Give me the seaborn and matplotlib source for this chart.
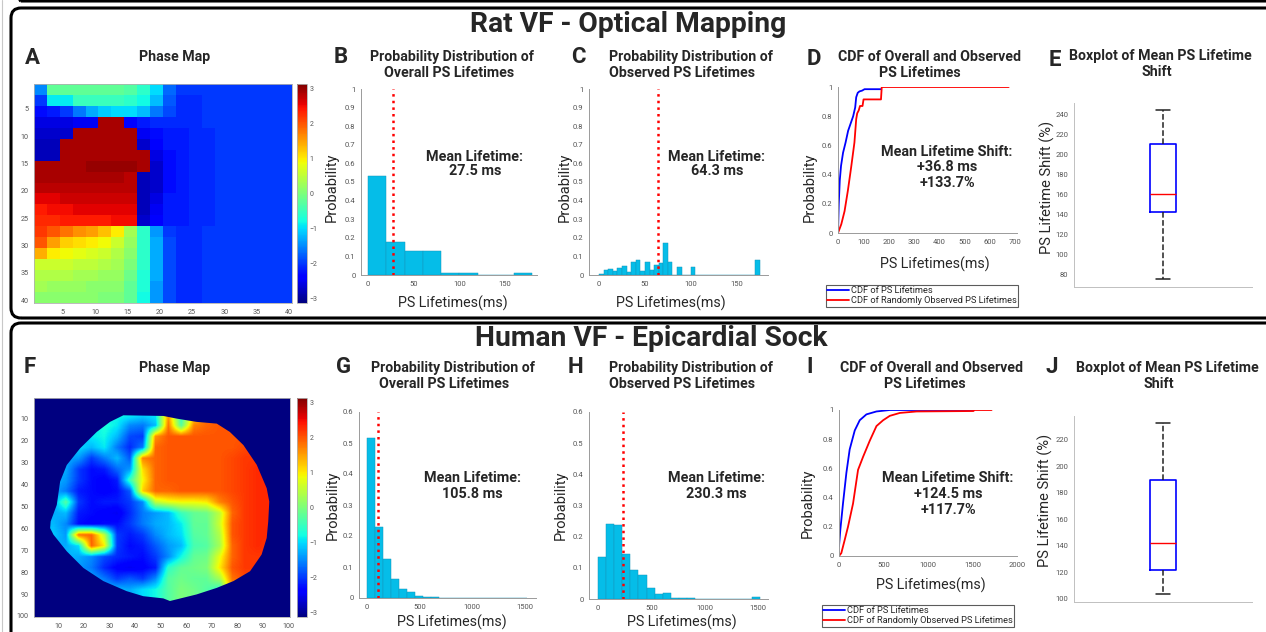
import numpy as np
import pandas as pd
import matplotlib
matplotlib.use('Agg')
import matplotlib.pyplot as plt
import seaborn as sns
from matplotlib.patches import FancyBboxPatch, Polygon
from matplotlib.lines import Line2D
from matplotlib.transforms import IdentityTransform
from matplotlib.ticker import FuncFormatter

# ---------------- data ----------------
# Rat phase map (20x20 coarse cells, each 2x2 pixels of the 40x40 map), radians
rat_phase = [
    [-1.5,-0.2,-0.2,-0.2,-0.2,-0.2,-0.2,-0.3,-0.6,-1.0,-1.7,-2.0,-2.0,-2.0,-2.0,-2.0,-2.0,-2.0,-2.0,-2.0],
    [-2.0,-0.9,-0.9,-0.5,-0.5,-0.5,-0.5,-0.6,-0.8,-1.2,-1.8,-2.1,-2.1,-2.0,-2.0,-2.0,-2.0,-2.0,-2.0,-2.0],
    [-2.3,-2.2,-2.0,-1.6,-1.3,-1.1,-1.0,-1.0,-1.2,-1.6,-1.9,-2.1,-2.1,-2.0,-2.0,-2.0,-2.0,-2.0,-2.0,-2.0],
    [-2.6,-2.6,-2.6,-2.5,-2.5, 2.9, 2.9,-2.4,-2.2,-2.1,-2.1,-2.1,-2.1,-2.0,-2.0,-2.0,-2.0,-2.0,-2.0,-2.0],
    [-2.7,-2.7,-2.7, 2.9, 2.9, 2.9, 2.9, 2.9,-2.5,-2.3,-2.2,-2.2,-2.1,-2.1,-2.0,-2.0,-2.0,-2.0,-2.0,-2.0],
    [-2.8,-2.8, 2.9, 2.9, 2.9, 2.9, 2.9, 2.9,-2.7,-2.4,-2.2,-2.2,-2.1,-2.1,-2.0,-2.0,-2.0,-2.0,-2.0,-2.0],
    [-2.8,-2.8, 2.9, 2.9, 2.9, 2.9, 2.9, 2.9, 2.9,-2.6,-2.3,-2.2,-2.1,-2.1,-2.0,-2.0,-2.0,-2.0,-2.0,-2.0],
    [ 2.9, 2.9, 2.9, 2.9, 3.0, 3.0, 3.0, 3.0, 2.9,-2.7,-2.3,-2.2,-2.1,-2.1,-2.0,-2.0,-2.0,-2.0,-2.0,-2.0],
    [ 2.9, 2.9, 2.9, 2.9, 2.9, 2.9, 2.9, 2.8,-2.8,-2.7,-2.3,-2.2,-2.1,-2.1,-2.0,-2.0,-2.0,-2.0,-2.0,-2.0],
    [ 2.8, 2.8, 2.8, 2.8, 2.8, 2.8, 2.8, 2.8,-2.8,-2.7,-2.3,-2.2,-2.1,-2.1,-2.0,-2.0,-2.0,-2.0,-2.0,-2.0],
    [ 2.6, 2.6, 2.7, 2.7, 2.7, 2.7, 2.7, 2.7,-2.8,-2.6,-2.2,-2.2,-2.1,-2.1,-2.0,-2.0,-2.0,-2.0,-2.0,-2.0],
    [ 2.4, 2.5, 2.5, 2.6, 2.6, 2.6, 2.6, 2.6,-2.8,-2.5,-2.2,-2.2,-2.1,-2.1,-2.0,-2.0,-2.0,-2.0,-2.0,-2.0],
    [ 2.3, 2.3, 2.4, 2.4, 2.4, 2.4, 2.5, 2.5,-2.7,-2.4,-2.2,-2.2,-2.1,-2.1,-2.0,-2.0,-2.0,-2.0,-2.0,-2.0],
    [ 2.2, 2.0, 1.8, 1.6, 1.5, 1.3, 1.0, 0.3,-0.6,-1.4,-2.0,-2.1,-2.1,-2.0,-2.0,-2.0,-2.0,-2.0,-2.0,-2.0],
    [ 2.0, 1.5, 1.2, 1.1, 1.0, 0.9, 0.6, 0.2,-0.6,-1.3,-1.9,-2.1,-2.1,-2.0,-2.0,-2.0,-2.0,-2.0,-2.0,-2.0],
    [ 1.4, 1.0, 0.9, 0.8, 0.7, 0.6, 0.4, 0.1,-0.6,-1.3,-1.9,-2.1,-2.1,-2.0,-2.0,-2.0,-2.0,-2.0,-2.0,-2.0],
    [ 0.6, 0.6, 0.6, 0.5, 0.5, 0.4, 0.3, 0.0,-0.6,-1.3,-1.9,-2.1,-2.1,-2.0,-2.0,-2.0,-2.0,-2.0,-2.0,-2.0],
    [ 0.4, 0.4, 0.4, 0.3, 0.3, 0.2, 0.2,-0.1,-0.7,-1.3,-1.9,-2.1,-2.1,-2.0,-2.0,-2.0,-2.0,-2.0,-2.0,-2.0],
    [ 0.3, 0.2, 0.2, 0.2, 0.1, 0.1, 0.1,-0.2,-0.7,-1.4,-1.9,-2.1,-2.1,-2.0,-2.0,-2.0,-2.0,-2.0,-2.0,-2.0],
    [ 0.1, 0.1, 0.1, 0.1, 0.1, 0.0, 0.0,-0.2,-0.8,-1.4,-1.9,-2.1,-2.1,-2.0,-2.0,-2.0,-2.0,-2.0,-2.0,-2.0],
]

# Human phase map (20x20 coarse cells, 5x5 electrodes each), radians
human_phase = [
    [-1.3,-1.3,-1.3,-1.3,-1.3,-1.0,-0.8,-0.8,-1.0,-0.9, 1.5,-0.6, 1.0, 1.9, 1.9, 2.0, 2.0, 2.0, 2.0, 2.0],
    [-1.3,-1.3,-1.3,-1.3,-1.3,-1.0,-0.8,-0.8,-1.0,-0.9, 1.5,-0.6, 1.0, 1.9, 1.9, 2.0, 2.0, 2.0, 2.0, 2.0],
    [-1.3,-1.3,-1.3,-1.3,-1.0,-0.7,-0.9,-1.5,-1.6,-1.2, 1.8,-0.3, 1.7, 1.9, 2.0, 2.0, 2.0, 2.0, 2.0, 2.0],
    [-1.3,-1.3,-1.3,-1.3,-0.9,-0.8,-1.2,-1.9,-2.0, 1.6, 2.0, 2.0, 2.0, 2.0, 2.0, 2.0, 2.0, 2.1, 2.1, 2.1],
    [-1.2,-1.2,-1.2,-1.0,-1.2,-0.9,-1.6,-2.1,-1.6, 1.9, 2.0, 2.0, 2.0, 2.0, 2.0, 2.0, 2.1, 2.2, 2.2, 2.2],
    [-1.3,-1.3,-1.3,-1.4,-2.0,-1.6,-1.2,-1.8, 1.7, 1.9, 2.0, 2.0, 2.0, 2.0, 2.0, 2.1, 2.2, 2.2, 2.3, 2.3],
    [-1.2,-1.2,-1.3,-2.0,-2.3,-2.2,-1.7,-1.4, 1.1, 1.9, 2.0, 2.0, 2.0, 2.0, 2.0, 2.1, 2.2, 2.3, 2.3, 2.3],
    [-1.2,-1.2,-1.4,-2.0,-2.3,-2.4,-2.2,-0.5, 0.9, 1.9, 2.0, 2.0, 2.0, 2.0, 2.0, 2.1, 2.2, 2.3, 2.3, 2.3],
    [-1.3,-1.3,-1.6,-2.2,-2.3,-2.4,-2.3,-1.8, 1.2, 1.9, 1.9, 2.0, 2.0, 2.0, 2.0, 2.1, 2.2, 2.3, 2.3, 2.3],
    [-1.4,-1.4,-0.3,-2.0,-2.3,-2.2,-2.2,-2.0,-1.5, 0.5, 0.8, 0.9, 0.9, 1.0, 1.7, 2.0, 2.2, 2.3, 2.3, 2.3],
    [-1.3,-1.3,-1.2,-2.2,-2.3,-2.4,-2.5,-2.1,-1.6,-1.4,-1.2,-0.5,-0.2,-0.1, 0.5, 1.9, 2.2, 2.3, 2.3, 2.3],
    [-1.3,-1.2,-1.5,-2.3,-2.4,-2.3,-2.3,-2.0,-1.6,-1.3,-1.2,-0.9,-0.2,-0.2, 0.6, 2.0, 2.2, 2.3, 2.3, 2.3],
    [-1.1,-1.1,-1.4, 1.8, 1.9, 0.5,-2.0,-2.2,-2.0,-1.5,-1.2,-1.0,-0.3,-0.2, 0.4, 2.0, 2.2, 2.3, 2.3, 2.3],
    [-1.3,-1.3,-1.3,-1.0, 1.9, 1.0,-2.0,-2.3,-2.2,-1.8,-1.4,-1.2,-0.4,-0.3, 0.3, 1.9, 2.2, 2.3, 2.2, 2.2],
    [-1.2,-1.2,-1.2,-1.3,-1.5,-1.9,-2.1,-2.2,-2.3,-2.0,-1.5,-0.8,-0.2,-0.1, 0.8, 1.9, 2.2, 2.2, 2.2, 2.2],
    [-1.4,-1.4,-1.4,-1.4,-1.6,-2.1,-2.4,-2.5,-2.4,-2.2,-0.6,-0.2,-0.1, 0.0, 1.0, 2.0, 2.2, 2.2, 2.2, 2.2],
    [-1.3,-1.3,-1.3,-1.3,-1.3,-1.6,-2.0,-1.8,-2.0,-1.5,-0.3,-0.1,-0.2,-0.2, 0.3, 1.8, 2.1, 2.1, 2.1, 2.1],
    [-1.2,-1.2,-1.2,-1.2,-1.2,-1.2,-1.2,-1.3,-1.0,-0.8,-0.3, 0.0,-0.1,-0.3,-0.6, 1.5, 2.0, 2.0, 2.0, 2.0],
    [-1.2,-1.2,-1.2,-1.2,-1.2,-1.2,-1.2,-1.3,-1.0,-0.8,-0.3, 0.0,-0.1,-0.3,-0.6, 1.5, 2.0, 2.0, 2.0, 2.0],
    [-1.2,-1.2,-1.2,-1.2,-1.2,-1.2,-1.2,-1.3,-1.0,-0.8,-0.3, 0.0,-0.1,-0.3,-0.6, 1.5, 2.0, 2.0, 2.0, 2.0],
]
# outline of the epicardial sock (x = column, y = row)
sock_outline_x = [35.4, 51.0, 56.2, 64.0, 71.9, 77.0, 82.3, 87.5, 91.4, 92.4, 92.0, 91.4, 89.4, 84.9,
                  78.4, 71.9, 64.0, 53.6, 51.0, 43.2, 36.7, 27.6, 19.8, 13.3, 8.1, 6.8, 7.0, 9.4,
                  10.7, 13.3, 18.5, 25.0, 30.2]
sock_outline_y = [8.4, 8.7, 9.9, 11.4, 12.2, 16.0, 22.0, 31.0, 41.7, 47.8, 56.9, 64.4, 72.0, 79.6,
                  84.1, 87.2, 90.2, 93.2, 92.0, 91.0, 88.7, 84.1, 78.1, 70.5, 62.9, 59.9, 56.9, 49.3,
                  38.7, 31.1, 23.5, 16.0, 11.4]

# Rat histograms
rat_overall_edges = [0, 20, 40, 60, 80, 100, 120, 140, 160, 180]
rat_overall_prob = [0.53, 0.175, 0.13, 0.13, 0.013, 0.013, 0.0, 0.0, 0.013]
rat_overall_mean = 27.5
rat_observed_edges = list(range(0, 180, 5))
rat_observed_prob = [0.004, 0.029, 0.032, 0.023, 0.039, 0.048, 0.016, 0.070, 0.079, 0.023,
                     0.068, 0.027, 0.054, 0.063, 0.171, 0.068, 0.0, 0.043, 0.0, 0.0,
                     0.045, 0.0, 0.0, 0.0, 0.0, 0.0, 0.0, 0.0, 0.0, 0.0,
                     0.0, 0.0, 0.0, 0.0, 0.082]
rat_observed_mean = 64.3

# Rat CDFs
rat_cdf_all_x = [0, 3, 7, 12, 20, 30, 40, 50, 60, 68, 72, 78, 85, 95, 105, 170]
rat_cdf_all_y = [0, 0.2, 0.36, 0.46, 0.55, 0.62, 0.70, 0.75, 0.80, 0.86, 0.93, 0.96, 0.97, 0.975, 0.985, 0.985]
rat_cdf_obs_x = [0, 13, 26, 39, 52, 65, 72, 76, 82, 87, 97, 101, 170, 173, 675]
rat_cdf_obs_y = [0, 0.06, 0.15, 0.29, 0.45, 0.62, 0.78, 0.82, 0.84, 0.87, 0.87, 0.915, 0.915, 1.0, 1.0]

# Rat boxplot (min, q1, median, q3, max of lifetime shift %)
rat_shift = [76, 143, 160, 210, 244]

# Human histograms
human_bin_width = 76
human_overall_prob = [0.515, 0.229, 0.127, 0.060, 0.030, 0.019, 0.0075, 0.003, 0.002, 0.001,
                      0.001, 0.0005, 0.0005, 0, 0, 0, 0, 0, 0, 0]
human_overall_mean = 105.8
human_observed_prob = [0.134, 0.241, 0.236, 0.144, 0.093, 0.076, 0.035, 0.015, 0.019, 0.004,
                       0.003, 0.002, 0, 0, 0, 0, 0, 0, 0, 0.006]
human_observed_mean = 230.3

# Human CDFs
human_cdf_all_x = [0, 15, 45, 83, 120, 177, 233, 308, 421, 571, 1511]
human_cdf_all_y = [0.066, 0.18, 0.36, 0.57, 0.73, 0.86, 0.93, 0.97, 0.99, 1.0, 1.0]
human_cdf_obs_x = [0, 26, 64, 101, 158, 214, 271, 346, 421, 496, 571, 684, 872, 1511, 1520, 1714]
human_cdf_obs_y = [0, 0.02, 0.11, 0.20, 0.36, 0.59, 0.68, 0.79, 0.89, 0.93, 0.96, 0.98, 0.99, 0.993, 1.0, 1.0]

# Human boxplot
human_shift = [104, 122, 142, 190, 233]

# ---------------- figure ----------------
sns.set_style('white')
plt.rcParams['font.family'] = ['Roboto', 'DejaVu Sans']

W, H = 1266, 632
fig = plt.figure(figsize=(W / 100, H / 100), dpi=100)

def add_ax(l, t, r, b):
    return fig.add_axes([l / W, 1 - b / H, (r - l) / W, (b - t) / H])

def ftext(x, y, s, **kw):
    kw.setdefault('ha', 'center')
    kw.setdefault('va', 'center')
    fig.text(x / W, 1 - y / H, s, **kw)

# frames
ident = IdentityTransform()
for (x0, ytop, x1, ybot) in [(11, -300, 1290, 1), (11, 8, 1290, 318), (11, 323, 1290, 700)]:
    fig.patches.append(FancyBboxPatch((x0, H - ybot), x1 - x0, ybot - ytop,
                                      boxstyle='round,pad=0,rounding_size=10',
                                      transform=ident, fill=False, ec='black', lw=2.2,
                                      clip_on=False))
fig.lines.append(Line2D([2, 2], [0, H], transform=ident, color='#c8c8c8', lw=0.8))

TICK_COLOR = '#555555'
SPINE_COLOR = '#9a9a9a'
HIST_COLOR = '#05BDE8'
fmt_g = FuncFormatter(lambda v, p: f'{v:g}')

def style_axes(ax):
    sns.despine(ax=ax)
    for s in ['left', 'bottom']:
        ax.spines[s].set_color(SPINE_COLOR)
        ax.spines[s].set_linewidth(0.7)
    ax.tick_params(labelsize=5.5, colors=TICK_COLOR, length=2, width=0.5, direction='out', pad=2)
    ax.set_facecolor('white')

def phase_map(ax_box, cax_box, grid, extent, ticks, interp, clip=None):
    ax = add_ax(*ax_box)
    cmap = plt.get_cmap('jet')
    im = ax.imshow(np.array(grid), cmap=cmap, vmin=-np.pi, vmax=np.pi, extent=extent,
                   interpolation=interp, aspect='auto')
    if clip is not None:
        ax.set_facecolor(cmap(0.0))
        poly = Polygon(np.column_stack(clip), closed=True, transform=ax.transData)
        im.set_clip_path(poly)
    ax.set_xlim(extent[0], extent[1])
    ax.set_ylim(extent[2], extent[3])
    ax.set_xticks(ticks)
    ax.set_yticks(ticks)
    ax.tick_params(labelsize=5.2, colors=TICK_COLOR, length=2, width=0.5, pad=2)
    for s in ax.spines.values():
        s.set_color('#b0b0b0')
        s.set_linewidth(0.6)
    cax = add_ax(*cax_box)
    cb = fig.colorbar(im, cax=cax, ticks=[-3, -2, -1, 0, 1, 2, 3])
    cb.outline.set_edgecolor('#b0b0b0')
    cb.outline.set_linewidth(0.6)
    cax.tick_params(labelsize=5, colors=TICK_COLOR, length=0, pad=2)
    return ax

def histogram(box, edges, probs, mean, xlim, ylim, yticks, xticks):
    ax = add_ax(*box)
    edges = [float(e) for e in edges]
    centers = [(a + b) / 2 for a, b in zip(edges[:-1], edges[1:])]
    df = pd.DataFrame({'lifetime': centers, 'prob': list(probs)})
    sns.histplot(data=df, x='lifetime', weights='prob', bins=edges, stat='count', ax=ax,
                 color=HIST_COLOR, alpha=1, edgecolor='#1597BD', linewidth=0.35)
    ax.axvline(mean, color='red', ls=':', lw=1.8, zorder=5)
    ax.set_xlim(*xlim)
    ax.set_ylim(*ylim)
    ax.set_yticks(yticks)
    ax.set_xticks(xticks)
    ax.yaxis.set_major_formatter(fmt_g)
    ax.set_xlabel('')
    ax.set_ylabel('')
    style_axes(ax)
    return ax

def cdf_plot(box, xa, ya, xo, yo, xlim, xticks, legend_xy):
    ax = add_ax(*box)
    sns.lineplot(x=xa, y=ya, ax=ax, color='#0000FF', lw=1.3, estimator=None, sort=False,
                 label='CDF of PS Lifetimes')
    sns.lineplot(x=xo, y=yo, ax=ax, color='#FF0000', lw=1.3, estimator=None, sort=False,
                 label='CDF of Randomly Observed PS Lifetimes')
    ax.set_xlim(*xlim)
    ax.set_ylim(0, 1)
    ax.set_xticks(xticks)
    ax.set_yticks([0, 0.2, 0.4, 0.6, 0.8, 1])
    ax.yaxis.set_major_formatter(fmt_g)
    ax.set_xlabel('')
    ax.set_ylabel('')
    style_axes(ax)
    ax.legend(loc='upper left', bbox_to_anchor=(legend_xy[0] / W, 1 - legend_xy[1] / H),
              bbox_transform=fig.transFigure, fontsize=6.7, frameon=True, fancybox=False,
              edgecolor='#333333', borderpad=0.15, handlelength=2.3, handletextpad=0.2,
              labelspacing=0.1, borderaxespad=0)
    ax.get_legend().get_frame().set_linewidth(0.8)
    return ax

def box_plot(box, vals, ylim, yticks):
    ax = add_ax(*box)
    sns.boxplot(y=vals, ax=ax, width=0.15, fill=False, color='blue', whis=1.5, showfliers=False,
                boxprops=dict(color='blue', lw=1.2),
                medianprops=dict(color='red', lw=1.0),
                whiskerprops=dict(color='#222222', ls='--', lw=1.1),
                capprops=dict(color='#222222', lw=1.1))
    ax.set_xlim(-0.5, 0.5)
    ax.set_ylim(*ylim)
    ax.set_yticks(yticks)
    ax.set_xticks([0])
    ax.set_xticklabels([''])
    ax.set_ylabel('')
    style_axes(ax)
    ax.spines['bottom'].set_color('#c0c0c0')
    ax.spines['left'].set_color('#c0c0c0')
    return ax

# ---- top row: Rat ----
phase_map((34, 84, 292, 303), (297, 84, 307, 303), rat_phase, [0.5, 40.5, 40.5, 0.5],
          [5, 10, 15, 20, 25, 30, 35, 40], 'nearest')
histogram((361, 89, 537, 275), rat_overall_edges, rat_overall_prob, rat_overall_mean,
          (-7.7, 185), (0, 1), np.round(np.arange(0, 1.01, 0.1), 1), [0, 50, 100, 150])
histogram((589, 89, 768, 275), rat_observed_edges, rat_observed_prob, rat_observed_mean,
          (-10.9, 184), (0, 1), np.round(np.arange(0, 1.01, 0.1), 1), [0, 50, 100, 150])
cdf_plot((838, 87, 1017, 233), rat_cdf_all_x, rat_cdf_all_y, rat_cdf_obs_x, rat_cdf_obs_y,
         (0, 708), [0, 100, 200, 300, 400, 500, 600, 700], (826, 285))
box_plot((1074, 103, 1252, 287), rat_shift, (68, 251), [80, 100, 120, 140, 160, 180, 200, 220, 240])

# ---- bottom row: Human ----
human_edges = [human_bin_width * k for k in range(len(human_overall_prob) + 1)]
phase_map((34, 398, 290, 617), (297, 398, 307, 617), human_phase, [0.5, 100.5, 100.5, 0.5],
          [10, 20, 30, 40, 50, 60, 70, 80, 90, 100], 'bilinear', clip=(sock_outline_x, sock_outline_y))
histogram((359, 412, 536, 598), human_edges, human_overall_prob, human_overall_mean,
          (-76, 1605), (0, 0.6), np.round(np.arange(0, 0.61, 0.1), 1), [0, 500, 1000, 1500])
histogram((589, 412, 768, 599), human_edges, human_observed_prob, human_observed_mean,
          (-84, 1594), (0, 0.6), np.round(np.arange(0, 0.61, 0.1), 1), [0, 500, 1000, 1500])
cdf_plot((839, 410, 1017, 556), human_cdf_all_x, human_cdf_all_y, human_cdf_obs_x, human_cdf_obs_y,
         (0, 2000), [0, 500, 1000, 1500, 2000], (822, 605))
box_plot((1074, 416, 1252, 602), human_shift, (97.7, 238), [100, 120, 140, 160, 180, 200, 220])

# ---- texts ----
ftext(628, 25, 'Rat VF - Optical Mapping', fontsize=20.3, fontweight='bold')
ftext(651, 338, 'Human VF - Epicardial Sock', fontsize=20.3, fontweight='bold')

for (x, y, s) in [(32, 58, 'A'), (341, 57, 'B'), (578, 57, 'C'), (814, 59, 'D'), (1055, 60, 'E'),
                  (30, 367, 'F'), (344, 367, 'G'), (575, 367, 'H'), (810, 367, 'I'), (1052, 367, 'J')]:
    ftext(x, y, s, fontsize=16, fontweight='bold')

sub_titles = [
    (175, 57, 'Phase Map'), (175, 368, 'Phase Map'),
    (452, 57, 'Probability Distribution of'), (449, 73, 'Overall PS Lifetimes'),
    (691, 57, 'Probability Distribution of'), (682, 73, 'Observed PS Lifetimes'),
    (929, 57, 'CDF of Overall and Observed'), (920, 73, 'PS Lifetimes'),
    (1160, 56, 'Boxplot of Mean PS Lifetime'), (1157, 72, 'Shift'),
    (453, 368, 'Probability Distribution of'), (444, 384, 'Overall PS Lifetimes'),
    (691, 368, 'Probability Distribution of'), (682, 384, 'Observed PS Lifetimes'),
    (932, 368, 'CDF of Overall and Observed'), (925, 384, 'PS Lifetimes'),
    (1167, 368, 'Boxplot of Mean PS Lifetime'), (1159, 384, 'Shift'),
]
for x, y, s in sub_titles:
    ftext(x, y, s, fontsize=10.2, fontweight='bold')

annots = [
    (475, 157, 'Mean Lifetime:'), (475, 171, '27.5 ms'),
    (717, 157, 'Mean Lifetime:'), (717, 171, '64.3 ms'),
    (947, 152, 'Mean Lifetime Shift:'), (947, 167, '+36.8 ms'), (947, 183, '+133.7%'),
    (472, 478, 'Mean Lifetime:'), (472, 494, '105.8 ms'),
    (716, 478, 'Mean Lifetime:'), (716, 494, '230.3 ms'),
    (948, 478, 'Mean Lifetime Shift:'), (948, 494, '+124.5 ms'), (948, 510, '+117.7%'),
]
for x, y, s in annots:
    ftext(x, y, s, fontsize=10.4, fontweight='bold')

for x, y in [(332, 187), (565, 187), (810, 187), (333, 505), (561, 505), (808, 503)]:
    ftext(x, y, 'Probability', fontsize=10.5, rotation=90)
for x, y in [(1047, 187), (1045, 500)]:
    ftext(x, y, 'PS Lifetime Shift (%)', fontsize=10.5, rotation=90)
for x, y in [(453, 303), (671, 303), (935, 264), (452, 622), (682, 622), (931, 585)]:
    ftext(x, y, 'PS Lifetimes(ms)', fontsize=10.3)

fig.savefig('out.png', dpi=100)
